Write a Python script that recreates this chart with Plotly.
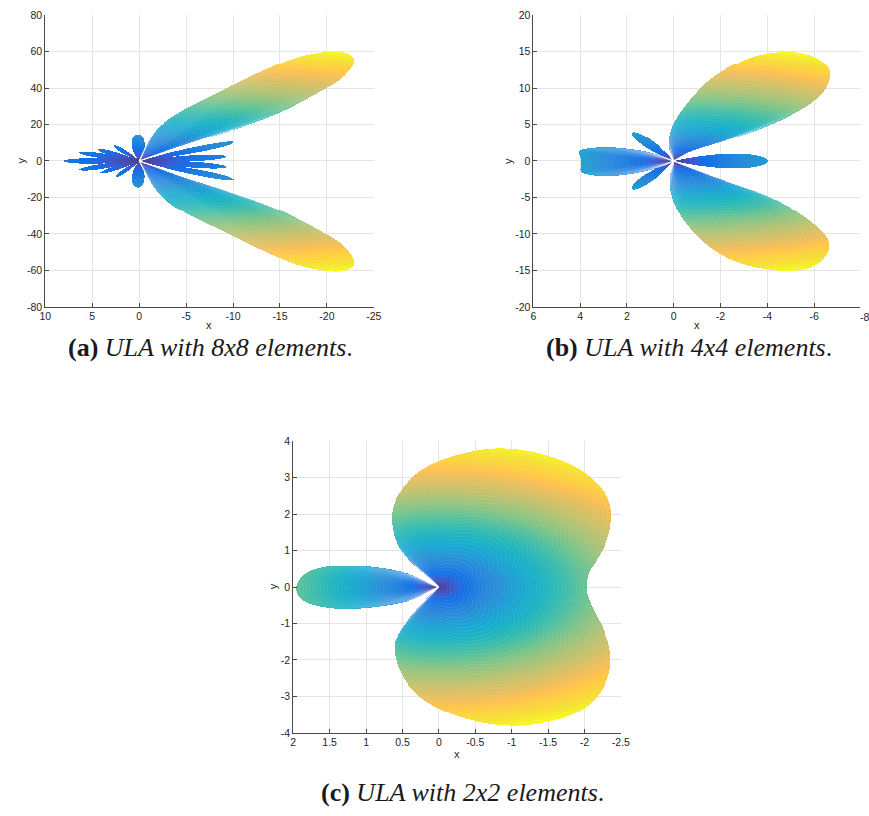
import numpy as np
import plotly.graph_objects as go

# ======================= chart data =======================
# ---- (a) ULA with 8x8 elements ----
a_xtick_vals = [10, 5, 0, -5, -10, -15, -20, -25]
a_xtick_text = ["10", "5", "0", "-5", "-10", "-15", "-20", "-25"]
a_ytick_vals = [-80, -60, -40, -20, 0, 20, 40, 60, 80]
a_ytick_text = ["-80", "-60", "-40", "-20", "0", "20", "40", "60", "80"]
a_upper_lobe_x = [0, -0.47, -1.52, -3.3, -5.71, -9.16, -12.62, -16.18, -19.32, -21.41, -22.67, -22.93,
                  -22.46, -21.41, -19.63, -16.18, -12.62, -9.16, -6.75, -4.45, -2.57, -1.0]
a_upper_lobe_y = [0, 5.6, 16.4, 23.9, 31.0, 39.6, 48.3, 56.4, 59.9, 60.4, 58.0, 54.8,
                  50.4, 44.5, 39.1, 29.4, 21.8, 15.8, 12.1, 8.3, 4.8, 1.8]
a_lower_lobe_x = [0, -0.8, -1.6, -3.3, -5.71, -9.16, -12.62, -16.18, -19.32, -21.41, -22.67, -22.93,
                  -22.46, -21.41, -19.63, -16.18, -12.62, -9.16, -6.75, -4.45, -2.57, -1.0]
a_lower_lobe_y = [0, -8.0, -15.5, -23.5, -30.8, -39.0, -47.8, -56.0, -59.8, -60.6, -58.4, -55.2,
                  -50.6, -44.6, -39.2, -29.6, -22.0, -16.0, -12.2, -8.4, -4.8, -1.8]
a_petal_tip_x = [8.0, 6.4, 4.4, 2.7, 0.2, 6.4, 4.1, 2.5, 0.2, -10.1, -9.2, -9.2, -10.1]
a_petal_tip_y = [0.0, 4.5, 6.3, 8.4, 14.8, -4.7, -6.5, -8.6, -14.4, 10.3, 2.4, -3.2, -10.1]
a_petal_width = [0.036, 0.04, 0.05, 0.07, 0.24, 0.04, 0.05, 0.07, 0.24, 0.03, 0.034, 0.034, 0.03]
a_caption = "<b>(a)</b> <i>ULA with 8x8 elements</i>."

# ---- (b) ULA with 4x4 elements ----
b_xtick_vals = [6, 4, 2, 0, -2, -4, -6]
b_xtick_text = ["6", "4", "2", "0", "-2", "-4", "-6"]
b_ytick_vals = [-20, -15, -10, -5, 0, 5, 10, 15, 20]
b_ytick_text = ["-20", "-15", "-10", "-5", "0", "5", "10", "15", "20"]
b_upper_lobe_x = [0, 0.19, 0.23, -0.02, -0.72, -1.7, -3.1, -3.8, -4.78, -5.6, -6.18, -6.6,
                  -6.71, -6.46, -5.62, -4.5, -3.1, -1.7, -0.72]
b_upper_lobe_y = [0, 1.4, 3.2, 5.5, 8.65, 11.8, 14.05, 14.7, 15.1, 14.8, 14.05, 12.9,
                  11.8, 9.5, 7.3, 5.5, 3.7, 2.3, 1.4]
b_lower_lobe_x = [0, 0.19, 0.12, -0.44, -1.7, -3.1, -4.0, -4.92, -5.8, -6.3, -6.71, -6.46,
                  -5.2, -3.8, -1.9, -0.6]
b_lower_lobe_y = [0, -2.2, -4.9, -8.5, -12.5, -14.3, -14.8, -15.1, -14.7, -13.8, -11.85, -9.8,
                  -6.7, -4.4, -2.4, -0.8]
b_left_lobe_x = [0, 0.54, 1.38, 2.2, 2.78, 3.5, 3.95, 4.11, 4.0, 3.95, 4.04, 3.6, 2.78, 2.0, 1.38, 0.54]
b_left_lobe_y = [0, 0.76, 1.43, 1.75, 1.9, 1.8, 1.6, 1.2, 0.5, -0.5, -1.5, -1.95, -2.1, -1.85, -1.5, -0.8]
b_petal_tip_x = [-4.0, 1.8, 1.8]
b_petal_tip_y = [0.0, 3.9, -3.75]
b_petal_width = [0.078, 0.09, 0.09]
b_caption = "<b>(b)</b> <i>ULA with 4x4 elements</i>."

# ---- (c) ULA with 2x2 elements ----
c_xtick_vals = [2, 1.5, 1, 0.5, 0, -0.5, -1, -1.5, -2, -2.5]
c_xtick_text = ["2", "1.5", "1", "0.5", "0", "-0.5", "-1", "-1.5", "-2", "-2.5"]
c_ytick_vals = [-4, -3, -2, -1, 0, 1, 2, 3, 4]
c_ytick_text = ["-4", "-3", "-2", "-1", "0", "1", "2", "3", "4"]
c_left_lobe_x = [0, 0.1, 0.27, 0.64, 1.22, 1.6, 1.85, 1.98, 1.9, 1.6, 1.18, 0.55, 0.27, 0.1]
c_left_lobe_y = [0, 0.07, 0.26, 0.49, 0.62, 0.56, 0.38, 0.0, -0.37, -0.56, -0.62, -0.46, -0.28, -0.08]
c_main_lobe_x = [0, 0.14, 0.36, 0.59, 0.66, 0.62, 0.5, 0.19, -0.3, -0.89, -1.57, -2.02, -2.29,
                 -2.38, -2.33, -2.15, -2.04, -2.02, -2.04, -2.15, -2.29, -2.38, -2.29, -2.02,
                 -1.57, -0.98, -0.35, 0.19, 0.5, 0.64, 0.55, 0.32, 0.12]
c_main_lobe_y = [0, 0.26, 0.62, 1.16, 1.85, 2.3, 2.78, 3.32, 3.68, 3.85, 3.6, 3.15, 2.6,
                 2.06, 1.34, 0.71, 0.35, 0.0, -0.28, -0.73, -1.27, -1.99, -2.71, -3.34,
                 -3.7, -3.84, -3.64, -3.16, -2.53, -1.72, -1.18, -0.64, -0.2]
c_caption = "<b>(c)</b> <i>ULA with 2x2 elements</i>."

# ======================= styling / geometry =======================
FIG_W, FIG_H = 869, 816
TICK_FONT = dict(family="Liberation Sans, Arial, sans-serif", size=10.5, color="#262626")
CAP_FONT = dict(family="Liberation Serif, Times New Roman, serif", size=26, color="#1a1a1a")
AXIS_COLOR = "#4a4a4a"
GRID_COLOR = "#e4e4e4"

PARULA = [
    (0.2081, 0.1663, 0.5292), (0.2116, 0.1898, 0.5777), (0.2123, 0.2138, 0.6270), (0.2081, 0.2386, 0.6771),
    (0.1959, 0.2645, 0.7279), (0.1707, 0.2919, 0.7792), (0.1253, 0.3242, 0.8303), (0.0591, 0.3598, 0.8683),
    (0.0117, 0.3875, 0.8820), (0.0060, 0.4086, 0.8828), (0.0165, 0.4266, 0.8786), (0.0329, 0.4430, 0.8720),
    (0.0498, 0.4586, 0.8641), (0.0629, 0.4737, 0.8554), (0.0723, 0.4887, 0.8467), (0.0779, 0.5040, 0.8384),
    (0.0793, 0.5200, 0.8312), (0.0749, 0.5375, 0.8263), (0.0641, 0.5570, 0.8240), (0.0488, 0.5772, 0.8228),
    (0.0343, 0.5966, 0.8199), (0.0265, 0.6137, 0.8135), (0.0239, 0.6287, 0.8038), (0.0231, 0.6418, 0.7913),
    (0.0228, 0.6535, 0.7768), (0.0267, 0.6642, 0.7607), (0.0384, 0.6743, 0.7436), (0.0590, 0.6838, 0.7254),
    (0.0843, 0.6928, 0.7062), (0.1133, 0.7015, 0.6859), (0.1453, 0.7098, 0.6646), (0.1801, 0.7177, 0.6424),
    (0.2178, 0.7250, 0.6193), (0.2586, 0.7317, 0.5954), (0.3022, 0.7376, 0.5712), (0.3482, 0.7424, 0.5473),
    (0.3953, 0.7459, 0.5244), (0.4420, 0.7481, 0.5033), (0.4871, 0.7491, 0.4840), (0.5300, 0.7491, 0.4661),
    (0.5709, 0.7485, 0.4494), (0.6099, 0.7473, 0.4337), (0.6473, 0.7456, 0.4188), (0.6834, 0.7435, 0.4044),
    (0.7184, 0.7411, 0.3905), (0.7525, 0.7384, 0.3768), (0.7858, 0.7356, 0.3633), (0.8185, 0.7327, 0.3498),
    (0.8507, 0.7299, 0.3360), (0.8824, 0.7274, 0.3217), (0.9139, 0.7258, 0.3063), (0.9450, 0.7261, 0.2886),
    (0.9739, 0.7314, 0.2666), (0.9938, 0.7455, 0.2403), (0.9990, 0.7653, 0.2164), (0.9955, 0.7861, 0.1967),
    (0.9880, 0.8066, 0.1794), (0.9789, 0.8271, 0.1633), (0.9697, 0.8481, 0.1475), (0.9626, 0.8705, 0.1309),
    (0.9589, 0.8949, 0.1132), (0.9598, 0.9218, 0.0948), (0.9661, 0.9514, 0.0755), (0.9763, 0.9831, 0.0538),
]
LIGHTEN = 0.08
GAMMA = 0.85


def colorscale():
    out = []
    n = len(PARULA)
    for i, (r, g, b) in enumerate(PARULA):
        r, g, b = [c + (1 - c) * LIGHTEN for c in (r, g, b)]
        out.append([i / (n - 1), "rgb(%d,%d,%d)" % (round(r * 255), round(g * 255), round(b * 255))])
    return out


def chaikin(vx, vy, n_iter=3):
    p = np.column_stack([np.r_[vx, vx[0]], np.r_[vy, vy[0]]]).astype(float)
    for _ in range(n_iter):
        q = [p[0]]
        for i in range(len(p) - 1):
            q.append(0.75 * p[i] + 0.25 * p[i + 1])
            q.append(0.25 * p[i] + 0.75 * p[i + 1])
        q.append(p[-1])
        p = np.array(q)
    return p[:, 0], p[:, 1]


def petal(tx, ty, w, sx, sy, n=80):
    # rose-petal shaped lobe from the origin to the tip, built in screen space
    X, Y = tx * sx, ty * sy
    L = np.hypot(X, Y)
    th0 = np.arctan2(Y, X)
    dlt = w / 0.357
    phi = np.linspace(-dlt, dlt, n)
    r = L * np.cos(np.pi * phi / (2 * dlt))
    return r * np.cos(th0 + phi) / sx, r * np.sin(th0 + phi) / sy


def inside(X, Y, vx, vy):
    c = np.zeros(X.shape, dtype=bool)
    n = len(vx)
    j = n - 1
    for i in range(n):
        yi, yj, xi, xj = vy[i], vy[j], vx[i], vx[j]
        if yi != yj:
            cond = ((yi > Y) != (yj > Y)) & (X < (xj - xi) * (Y - yi) / (yj - yi) + xi)
            c ^= cond
        j = i
    return c


panels = [
    dict(box=(40.0, 374.3, 9.3, 305.3), xr=[10, -25], yr=[-80, 80],
         lobes=[(a_upper_lobe_x, a_upper_lobe_y), (a_lower_lobe_x, a_lower_lobe_y)],
         petals=(a_petal_tip_x, a_petal_tip_y, a_petal_width),
         xt=(a_xtick_vals, a_xtick_text), yt=(a_ytick_vals, a_ytick_text),
         xlab=(207, 324), ylab=(15, 157), cap=(a_caption, 208, 346.5)),
    dict(box=(536.7, 869.0, 9.3, 305.3), xr=[6, 6 - (869.0 - 536.7) / 23.8], yr=[-20, 20],
         lobes=[(b_upper_lobe_x, b_upper_lobe_y), (b_lower_lobe_x, b_lower_lobe_y),
                (b_left_lobe_x, b_left_lobe_y)],
         petals=(b_petal_tip_x, b_petal_tip_y, b_petal_width),
         xt=(b_xtick_vals, b_xtick_text), yt=(b_ytick_vals, b_ytick_text),
         xlab=(703, 324), ylab=(510, 157), cap=(b_caption, 694.5, 346.5)),
    dict(box=(292.3, 625.7, 441.7, 737.7), xr=[2, -2.5], yr=[-4, 4],
         lobes=[(c_left_lobe_x, c_left_lobe_y), (c_main_lobe_x, c_main_lobe_y)],
         petals=([], [], []),
         xt=(c_xtick_vals, c_xtick_text), yt=(c_ytick_vals, c_ytick_text),
         xlab=(459, 759), ylab=(271.7, 589), cap=(c_caption, 465, 798)),
]

fig = go.Figure()
annotations = []
cs = colorscale()

for k, P in enumerate(panels):
    left, right, top, bottom = P["box"]
    nx = int(round(right - left))
    ny = int(round(bottom - top))
    x0, x1 = P["xr"]
    y0, y1 = P["yr"]
    sx = (right - left) / abs(x1 - x0)
    sy = (bottom - top) / abs(y1 - y0)
    xs = x0 + (np.arange(nx) + 0.5) * (x1 - x0) / nx
    ys = y0 + (np.arange(ny) + 0.5) * (y1 - y0) / ny
    X, Y = np.meshgrid(xs, ys)
    mask = np.zeros(X.shape, dtype=bool)
    outlines = []
    for vx, vy in P["lobes"]:
        px_, py_ = chaikin(np.array(vx, float), np.array(vy, float))
        outlines.append((px_, py_))
        mask |= inside(X, Y, px_, py_)
    for tx, ty, w in zip(*P["petals"]):
        px_, py_ = petal(tx, ty, w, sx, sy)
        mask |= inside(X, Y, px_, py_)
    R = np.hypot(X, Y)
    rmax = R[mask].max()
    Zn = np.round((R / rmax) ** GAMMA, 4)
    z = [[(float(v) if m else None) for v, m in zip(rz, rm)] for rz, rm in zip(Zn, mask)]

    sfx = "" if k == 0 else str(k + 1)
    fig.add_trace(go.Heatmap(x=xs, y=ys, z=z, colorscale=cs, zmin=0, zmax=1, showscale=False,
                             hoverinfo="skip", xaxis="x" + sfx, yaxis="y" + sfx))
    # faint mesh texture: nested copies of each big lobe outline, scaled about the origin
    mx, my = [], []
    for px_, py_ in outlines:
        for s in np.linspace(0.025, 0.98, 40):
            mx.extend(list(np.round(px_ * s, 4)) + [None])
            my.extend(list(np.round(py_ * s, 4)) + [None])
    fig.add_trace(go.Scatter(x=mx, y=my, mode="lines", line=dict(color="rgba(255,255,255,0.15)", width=0.6),
                             hoverinfo="skip", xaxis="x" + sfx, yaxis="y" + sfx))

    common = dict(showline=True, linecolor=AXIS_COLOR, linewidth=1, mirror=False,
                  ticks="inside", ticklen=4, tickcolor=AXIS_COLOR, tickwidth=1,
                  showgrid=True, gridcolor=GRID_COLOR, gridwidth=1, zeroline=False,
                  tickfont=TICK_FONT, fixedrange=True)
    fig.layout["xaxis" + sfx] = dict(domain=[left / FIG_W, right / FIG_W], range=[x0, x1],
                                     anchor="y" + sfx, tickmode="array",
                                     tickvals=P["xt"][0], ticktext=P["xt"][1], **common)
    fig.layout["yaxis" + sfx] = dict(domain=[1 - bottom / FIG_H, 1 - top / FIG_H], range=[y0, y1],
                                     anchor="x" + sfx, tickmode="array",
                                     tickvals=P["yt"][0], ticktext=P["yt"][1], **common)
    # axis titles
    annotations.append(dict(text="x", x=P["xlab"][0] / FIG_W, y=1 - P["xlab"][1] / FIG_H,
                            xref="paper", yref="paper", showarrow=False,
                            xanchor="center", yanchor="middle", font=dict(TICK_FONT, size=11)))
    annotations.append(dict(text="y", x=P["ylab"][0] / FIG_W, y=1 - P["ylab"][1] / FIG_H,
                            xref="paper", yref="paper", showarrow=False, textangle=-90,
                            xanchor="center", yanchor="middle", font=dict(TICK_FONT, size=11)))
    cap, cx, cy = P["cap"]
    annotations.append(dict(text=cap, x=cx / FIG_W, y=1 - cy / FIG_H, xref="paper", yref="paper",
                            showarrow=False, xanchor="center", yanchor="middle", font=CAP_FONT))

# the cut-off "-8" tick label at the right edge of panel (b)
annotations.append(dict(text="-8", x=874.0 / FIG_W, y=1 - 305.3 / FIG_H, xref="paper", yref="paper",
                        showarrow=False, xanchor="center", yanchor="top", yshift=-2, font=TICK_FONT))

fig.update_layout(width=FIG_W, height=FIG_H, margin=dict(l=0, r=0, t=0, b=0),
                  paper_bgcolor="white", plot_bgcolor="white", showlegend=False,
                  annotations=annotations)

fig.write_html("out.html")
